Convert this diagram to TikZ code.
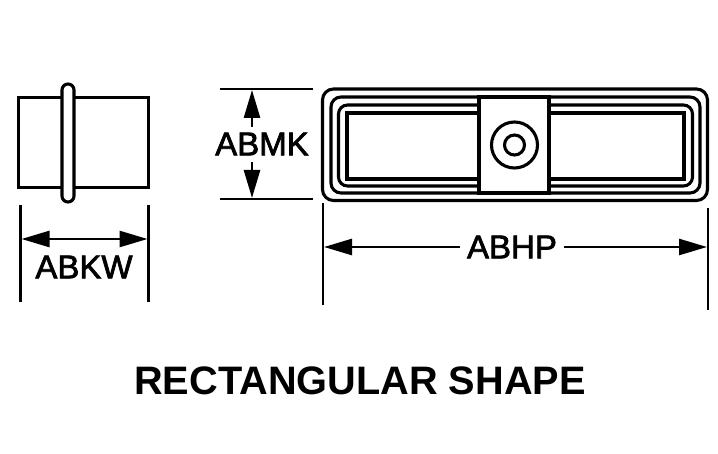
\documentclass[tikz,border=0pt]{standalone}
\usepackage{fontspec}
\setmainfont{Liberation Sans}
\newfontfamily\dimfont[FakeBold=2.2]{Liberation Sans}
\usepackage{tikz}
\usetikzlibrary{arrows.meta}

\tikzset{
	part/.style={line width=3.1pt},
	extline/.style={line width=2.9pt},
	dimline/.style={line width=2.6pt,{Triangle[length=28pt,width=16pt]}-{Triangle[length=28pt,width=16pt]}},
	dimhalf/.style={line width=2.6pt,-{Triangle[length=28pt,width=16pt]}},
	dimlabel/.style={inner sep=0pt,font=\fontsize{33}{33}\dimfont},
}

\begin{document}
\begin{tikzpicture}[x=1pt,y=-1pt]
		\useasboundingbox (0,0) rectangle (718,454);
		% side view
		\draw[part] (18.5,97.5) rectangle (148.5,187.5);
		\draw[part,fill=white,rounded corners=6pt] (62,84) rectangle (74,202);
		\coordinate (wl1) at (20.5,205);
		\coordinate (wl2) at (20.5,302);
		\coordinate (wr1) at (148.5,205);
		\coordinate (wr2) at (148.5,302);
		\draw[extline] (wl1) -- (wl2);
		\draw[extline] (wr1) -- (wr2);
		\draw[dimline] (21.5,239) coordinate (wa) -- (147.5,239) coordinate (wb);
		\node[dimlabel] (abkw) at (84,267) {ABKW};
		% front view
		\draw[part,rounded corners=11pt] (322.5,89) rectangle (707.5,200.5);
		\draw[part,rounded corners=10pt] (331,97) rectangle (700,193);
		\draw[part,rounded corners=9pt] (338.5,105) rectangle (692.5,186);
		\draw[part] (347,113) rectangle (684,179);
		\draw[part,fill=white] (479,97) rectangle (549,193);
		\node[part,draw,circle,minimum size=46pt,inner sep=0pt] (boss) at (514.5,145) {};
		\node[part,draw,circle,minimum size=20pt,inner sep=0pt] (bore) at (boss.center) {};
		% height
		\coordinate (mt1) at (220,89);
		\coordinate (mt2) at (313,89);
		\coordinate (mb1) at (220,199);
		\coordinate (mb2) at (313,199);
		\draw[extline] (mt1) -- (mt2);
		\draw[extline] (mb1) -- (mb2);
		\node[dimlabel] (abmk) at (262,144) {ABMK};
		\draw[dimhalf] (252,127) -- (252,90) coordinate (ma);
		\draw[dimhalf] (252,162) -- (252,198) coordinate (mb);
		% length
		\coordinate (pl1) at (323,203);
		\coordinate (pl2) at (323,305);
		\coordinate (pr1) at (708,208);
		\coordinate (pr2) at (708,310);
		\draw[extline] (pl1) -- (pl2);
		\draw[extline] (pr1) -- (pr2);
		\node[dimlabel] (abhp) at (512,247) {ABHP};
		\coordinate (pa) at (324,247);
		\coordinate (pb) at (707,247);
		\draw[dimhalf] ([xshift=-7pt]abhp.west) -- (pa);
		\draw[dimhalf] ([xshift=7pt]abhp.east) -- (pb);
		\node[inner sep=0pt,font=\fontsize{39.7}{40}\selectfont\bfseries] (title) at (360,381) {RECTANGULAR SHAPE};
\end{tikzpicture}
\end{document}
